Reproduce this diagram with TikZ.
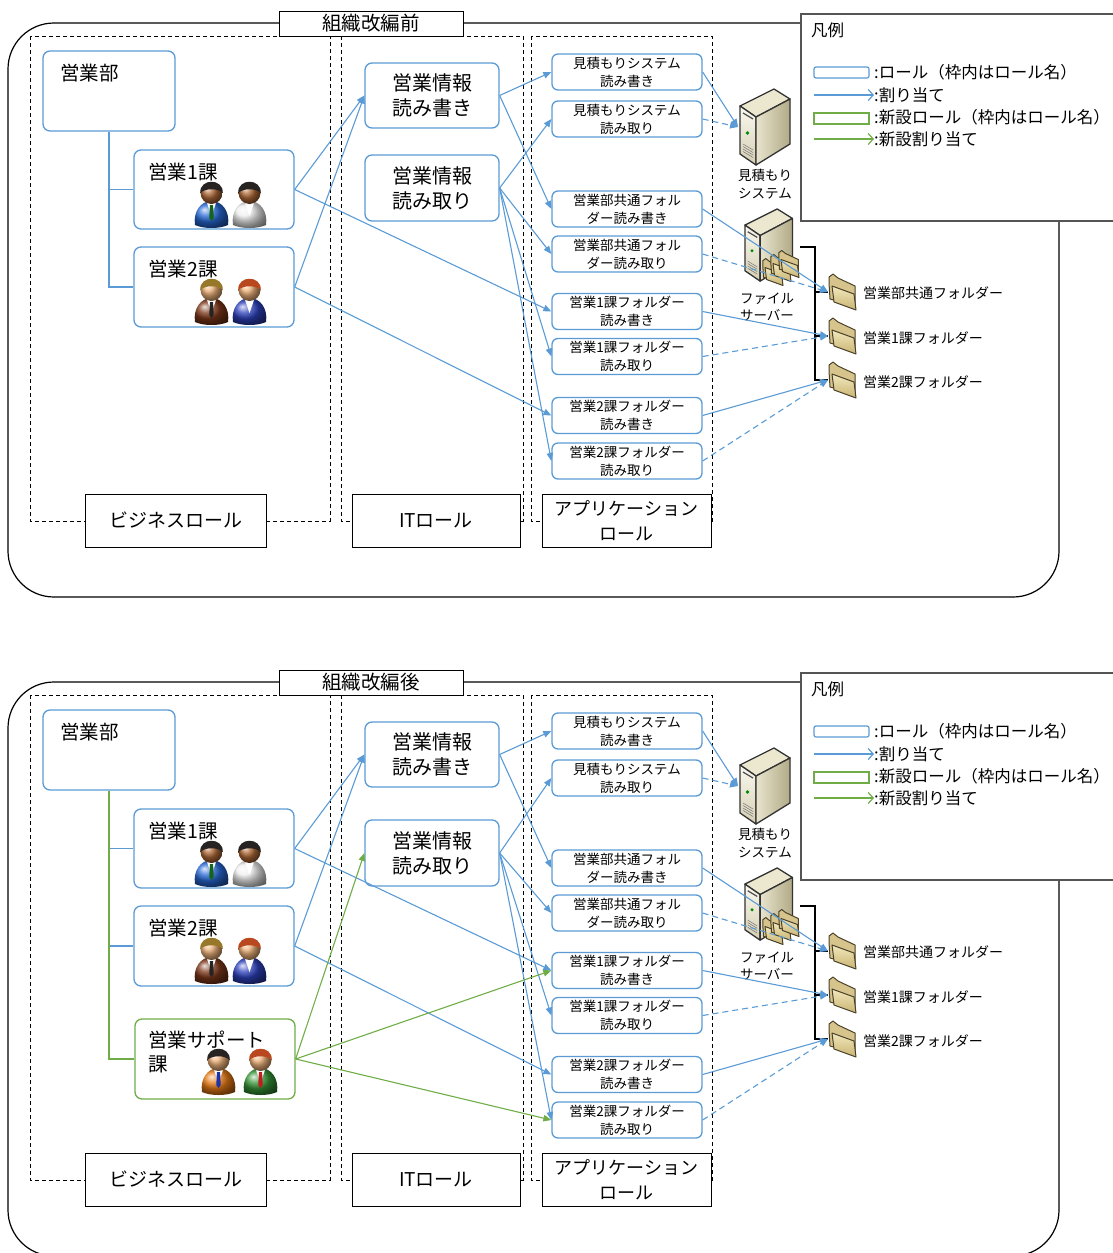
\documentclass[tikz,border=0pt]{standalone}
\usepackage{fontspec}
\setmainfont{Noto Sans CJK JP}
\usetikzlibrary{arrows.meta}

\definecolor{roleblue}{RGB}{91,155,213}
\definecolor{newgreen}{RGB}{112,173,71}
\definecolor{legendgray}{RGB}{85,85,85}
\definecolor{suitblue}{RGB}{40,105,215}
\definecolor{suitwhite}{RGB}{238,238,238}
\definecolor{suitbrown}{RGB}{125,55,25}
\definecolor{suitnavy}{RGB}{45,65,190}
\definecolor{suitorange}{RGB}{232,122,20}
\definecolor{suitgreen}{RGB}{55,150,55}
\definecolor{skindark}{RGB}{175,105,55}
\definecolor{skinlight}{RGB}{238,178,122}
\definecolor{hairdark}{RGB}{40,35,35}
\definecolor{hairblond}{RGB}{150,120,40}
\definecolor{hairred}{RGB}{185,72,30}
\definecolor{tiegreen}{RGB}{20,100,30}
\definecolor{tiered}{RGB}{190,30,30}
\definecolor{tieblue}{RGB}{30,50,170}
\definecolor{servertop}{RGB}{236,232,208}
\definecolor{serverfrontA}{RGB}{250,249,240}
\definecolor{serverfrontB}{RGB}{212,206,178}
\definecolor{serversideA}{RGB}{232,228,205}
\definecolor{serversideB}{RGB}{178,170,135}
\definecolor{folderA}{RGB}{242,232,188}
\definecolor{folderB}{RGB}{200,180,115}
\definecolor{folderback}{RGB}{214,196,140}
\definecolor{folderline}{RGB}{75,65,40}

\tikzset{
  frame/.style={draw=black, line width=1.2pt, rounded corners=46pt},
  group/.style={draw=black, line width=0.9pt, dash pattern=on 4pt off 3pt},
  caption/.style={draw=black, fill=white, line width=1pt, inner sep=0pt, align=center,
    font=\fontsize{19}{25}\selectfont},
  role/.style={draw=roleblue, line width=1.3pt, rounded corners=7pt, fill=white,
    inner sep=0pt, align=center},
  newrole/.style={role, draw=newgreen},
  roletext/.style={inner sep=0pt, font=\fontsize{19.5}{24}\selectfont},
  itrole/.style={role, minimum width=134pt, font=\fontsize{20}{25}\selectfont},
  approle/.style={role, rounded corners=6pt, minimum width=150pt, minimum height=36pt,
    font=\fontsize{13.5}{18}\selectfont},
  smalltext/.style={inner sep=0pt, align=center, font=\fontsize{13.5}{17.5}\selectfont},
  foldertext/.style={inner sep=0pt, anchor=west, font=\fontsize{14}{17}\selectfont},
  legendtext/.style={inner sep=0pt, anchor=west, font=\fontsize{16.5}{20}\selectfont},
  tree/.style={draw=roleblue, line width=1.2pt},
  newtree/.style={draw=newgreen, line width=1.2pt},
  bracket/.style={draw=black, line width=1.2pt},
  assign/.style={draw=roleblue, line width=1.1pt, -{Triangle[length=8pt,width=6.5pt]}},
  assignr/.style={assign, dash pattern=on 6pt off 4pt},
  newassign/.style={assign, draw=newgreen},
  legendarrow/.style={line width=1.2pt, -{Straight Barb[length=5pt,width=11pt]}},
  serverline/.style={draw=black!80, line width=1.3pt, line join=round},
  folderlinestyle/.style={draw=folderline, line width=1pt, line join=round},
  pics/server/.style={code={
    \draw[serverline, fill=servertop] (2,18) -- (36,1) -- (52,11) -- (18,29) -- cycle;
    \draw[serverline, top color=serverfrontA, bottom color=serverfrontB]
      (2,18) -- (18,29) -- (18,77) -- (2,66) -- cycle;
    \draw[serverline, left color=serversideA, right color=serversideB]
      (18,29) -- (52,11) -- (52,56) -- (18,77) -- cycle;
    \draw[black!70, line width=1.2pt] (5,25) -- (15,31);
    \fill[green!55!black] (9.5,45) circle (1.8pt);
    \foreach \k in {0,2.5,5,7.5} {\draw[black!55, line width=0.5pt] (5,56+\k) -- (15,62+\k);}
  }},
  pics/folder/.style={code={
    \draw[folderlinestyle, fill=folderback]
      (1,-9) -- (1,-15) -- (5,-18) -- (10,-14) -- (27,-6) -- (27,14) -- (2,7) -- cycle;
    \draw[folderlinestyle, top color=folderA, bottom color=folderB]
      (4,-6) -- (26,2) -- (28,18) -- (6,10) -- cycle;
  }},
  pics/person/.style n args={4}{code={
    \shade[ball color=#1] (-16.5,-3) .. controls (-18.5,-16) and (-11,-27) .. (0,-27)
      .. controls (11,-27) and (18.5,-16) .. (16.5,-3) .. controls (8,1) and (-8,1) .. cycle;
    \fill[white] (-5,-26.5) -- (0,-12) -- (5,-26.5) -- cycle;
    \path[fill=#3] (-1.6,-23) -- (1.6,-23) -- (2.2,-10) -- (0,-7) -- (-2.2,-10) -- cycle;
    \shade[ball color=#4] (0,-35) circle (11pt);
    \fill[#2] (-11.3,-35) .. controls (-12,-50) and (12,-50) .. (11.3,-35)
      .. controls (6,-40) and (-6,-40) .. cycle;
  }}
}

% One organisation panel: #1 heading, #2 vertical centre of the read-only IT role
\newcommand{\rolepanel}[2]{%
  \draw[frame] (8,23) rectangle (1059,597);
  \draw[group] (30,36) rectangle (330,521);
  \draw[group] (341,36) rectangle (523,521);
  \draw[group] (531,36) rectangle (712,521);
  \node[caption, minimum width=181pt, minimum height=53pt] (biz) at (175.5,520.5) {ビジネスロール};
  \node[caption, minimum width=168pt, minimum height=53pt] (it) at (436,520.5) {ITロール};
  \node[caption, minimum width=169pt, minimum height=53pt, font=\fontsize{18}{25}\selectfont]
    (app) at (626.5,520.5) {アプリケーション\\ロール};
  \node[caption, minimum width=184pt, minimum height=25pt, font=\fontsize{19.5}{24}\selectfont]
    (title) at (371,23.5) {#1};
  % legend
  \draw[draw=legendgray, line width=1.2pt, fill=white] (1125,221) -- (801,221) -- (801,14) -- (1125,14);
  \node[legendtext] (leg) at (811,30) {凡例};
  \node[draw=roleblue, line width=1.2pt, rounded corners=2pt, minimum width=55pt,
    minimum height=11pt, inner sep=0pt] (leg-role) at (841.5,72.5) {};
  \node[legendtext] (leg-role-t) at (874,72) {:ロール（枠内はロール名）};
  \coordinate (leg-a1) at (814,95);
  \coordinate (leg-a2) at (874,95);
  \draw[legendarrow, roleblue] (leg-a1) -- (leg-a2);
  \node[legendtext] (leg-a-t) at (874,95) {:割り当て};
  \node[draw=newgreen, line width=1.2pt, minimum width=55pt, minimum height=11pt,
    inner sep=0pt] (leg-new) at (841.5,118.5) {};
  \node[legendtext] (leg-new-t) at (874,117) {:新設ロール（枠内はロール名）};
  \coordinate (leg-n1) at (814,139);
  \coordinate (leg-n2) at (874,139);
  \draw[legendarrow, newgreen] (leg-n1) -- (leg-n2);
  \node[legendtext] (leg-n-t) at (874,139) {:新設割り当て};
  % business roles
  \node[role, minimum width=132pt, minimum height=80pt] (bu) at (109,91) {};
  \node[role, minimum width=160pt, minimum height=79pt] (s1) at (214,189.5) {};
  \node[role, minimum width=160pt, minimum height=80pt] (s2) at (214,287) {};
  \draw[tree] (bu.south) |- (s2.west);
  \draw[tree] (bu.south |- s1.west) -- (s1.west);
  \node[roletext, anchor=west] (bu-t) at (60,73) {営業部};
  \node[roletext, anchor=west] (s1-t) at (148,172) {営業1課};
  \node[roletext, anchor=west] (s2-t) at (148,269) {営業2課};
  \pic at (211.5,228) {person={suitblue}{hairdark}{tiegreen}{skindark}};
  \pic at (249.5,228) {person={suitwhite}{hairdark}{none}{skindark}};
  \pic at (211.5,325) {person={suitbrown}{hairblond}{hairdark}{skinlight}};
  \pic at (249.5,325) {person={suitnavy}{hairred}{none}{skinlight}};
  % IT roles
  \node[itrole, minimum height=65pt] (irw) at (432,95.5) {営業情報\\読み書き};
  \node[itrole, minimum height=66pt] (iro) at (432,#2) {営業情報\\読み取り};
  % application roles
  \node[approle] (a1) at (627,72) {見積もりシステム\\読み書き};
  \node[approle] (a2) at (627,119) {見積もりシステム\\読み取り};
  \node[approle] (a3) at (627,209) {営業部共通フォル\\ダー読み書き};
  \node[approle] (a4) at (627,254) {営業部共通フォル\\ダー読み取り};
  \node[approle] (a5) at (627,311.5) {営業1課フォルダー\\読み書き};
  \node[approle] (a6) at (627,356.5) {営業1課フォルダー\\読み取り};
  \node[approle] (a7) at (627,415.5) {営業2課フォルダー\\読み書き};
  \node[approle] (a8) at (627,461) {営業2課フォルダー\\読み取り};
  % systems
  \pic at (738,88) {server};
  \node[smalltext] (est-t) at (765,184) {見積もり\\システム};
  \pic[scale=0.95] at (743,208) {server};
  \pic[scale=0.75] at (762,272) {folder};
  \pic[scale=0.75] at (770,268) {folder};
  \pic[scale=0.75] at (778,264) {folder};
  \node[smalltext] (fs-t) at (767,307) {ファイル\\サーバー};
  \coordinate (br-top) at (800,247);
  \coordinate (br-x) at (815,247);
  \coordinate (f1) at (828,292);
  \coordinate (f2) at (828,336);
  \coordinate (f3) at (828,380);
  \draw[bracket] (br-top) -- (br-x) |- (f3);
  \draw[bracket] (br-x |- f1) -- (f1);
  \draw[bracket] (br-x |- f2) -- (f2);
  \pic at (f1) {folder};
  \pic at (f2) {folder};
  \pic at (f3) {folder};
  \node[foldertext] (f1-t) at (863,293) {営業部共通フォルダー};
  \node[foldertext] (f2-t) at (863,338) {営業1課フォルダー};
  \node[foldertext] (f3-t) at (863,382) {営業2課フォルダー};
  \coordinate (est-in) at (738,127);
  % assignments
  \draw[assign] (s1.east) -- (irw.west);
  \draw[assign] (s2.east) -- (irw.west);
  \draw[assign] (s1.east) -- (a5.west);
  \draw[assign] (s2.east) -- (a7.west);
  \draw[assign] (irw.east) -- (a1.west);
  \draw[assign] (irw.east) -- (a3.west);
  \draw[assign] (iro.east) -- (a2.west);
  \draw[assign] (iro.east) -- (a4.west);
  \draw[assign] (iro.east) -- (a6.west);
  \draw[assign] (iro.east) -- (a8.west);
  \draw[assign] (a1.east) -- (est-in);
  \draw[assignr] (a2.east) -- (est-in);
  \draw[assign] (a3.east) -- (f1);
  \draw[assignr] (a4.east) -- (f1);
  \draw[assign] (a5.east) -- (f2);
  \draw[assignr] (a6.east) -- (f2);
  \draw[assign] (a7.east) -- (f3);
  \draw[assignr] (a8.east) -- (f3);
}

\begin{document}
\begin{tikzpicture}[x=1pt, y=-1pt]
  \useasboundingbox (0,0) rectangle (1112,1253);
  \begin{scope}[name prefix=pre-]
    \rolepanel{組織改編前}{188}
  \end{scope}
  \begin{scope}[yshift=-659pt, name prefix=post-]
    \rolepanel{組織改編後}{194}
    % new sales support section and its assignments
    \node[newrole, minimum width=160pt, minimum height=80pt] (sp) at (215,400) {};
    \draw[newtree] (bu.south) |- (sp.west);
    \node[roletext, anchor=north west, align=left, font=\fontsize{19.5}{24}\selectfont]
      (sp-t) at (148,372) {営業サポート\\課};
    \pic at (218.5,436) {person={suitorange}{hairdark}{tieblue}{skinlight}};
    \pic at (260.5,436) {person={suitgreen}{hairred}{tiered}{skinlight}};
    \draw[newassign] (sp.east) -- (iro.west);
    \draw[newassign] (sp.east) -- (a5.west);
    \draw[newassign] (sp.east) -- (a8.west);
  \end{scope}
\end{tikzpicture}
\end{document}
